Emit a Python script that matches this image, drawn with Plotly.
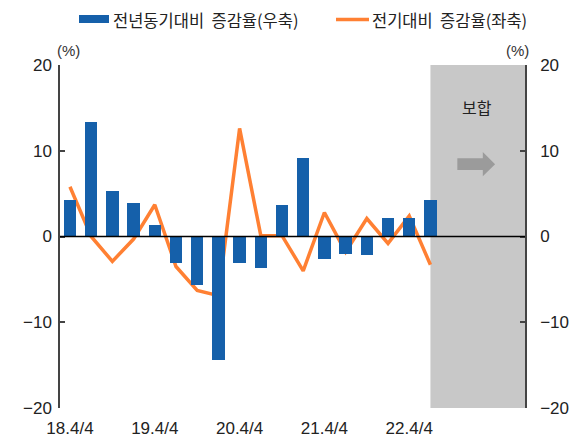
import plotly.graph_objects as go

quarters = ["18.4/4", "19.1/4", "19.2/4", "19.3/4", "19.4/4", "20.1/4", "20.2/4", "20.3/4",
            "20.4/4", "21.1/4", "21.2/4", "21.3/4", "21.4/4", "22.1/4", "22.2/4", "22.3/4",
            "22.4/4", "23.1/4"]
yoy = [4.3, 13.3, 5.3, 3.9, 1.4, -3.1, -5.7, -14.4, -3.1, -3.7, 3.7, 9.2, -2.6, -2.0, -2.1, 2.1, 2.1, 4.2]
qoq = [5.8, 0.0, -2.9, -0.3, 3.7, -3.5, -6.3, -6.9, 12.6, 0.1, 0.1, -4.0, 2.8, -1.8, 2.1, -0.8, 2.4, -3.3]
tick_labels = ["18.4/4", "19.4/4", "20.4/4", "21.4/4", "22.4/4"]
y_ticks = [-20, -10, 0, 10, 20]
outlook_label = "보합"
name_yoy = "전년동기대비  증감율(우축)"
name_qoq = "전기대비  증감율(좌축)"

BLUE = "#1560AA"
ORANGE = "#FF8033"

xs = list(range(len(quarters)))
tick_pos = [quarters.index(t) for t in tick_labels]

KFONT = "Noto Sans CJK KR, Liberation Sans, sans-serif"
NFONT = "Liberation Sans, Arial, sans-serif"

fig = go.Figure()
fig.add_trace(go.Bar(x=xs, y=yoy, name=name_yoy, yaxis="y2", width=0.59,
                     marker=dict(color=BLUE, line=dict(width=0))))
fig.add_trace(go.Scatter(x=xs, y=qoq, name=name_qoq, mode="lines", yaxis="y",
                         line=dict(color=ORANGE, width=3.5)))

fig.add_shape(type="rect", xref="x", yref="paper", x0=17, x1=21.46, y0=0, y1=1,
              fillcolor="#C8C8C8", line=dict(width=0), layer="below")
# zero line
fig.add_shape(type="line", xref="paper", yref="y", x0=0, x1=1, y0=0, y1=0,
              line=dict(color="black", width=1.5), layer="above")
# arrow
ax0, ax1, ax2, ay, sh, hh = 18.27, 19.47, 20.05, 8.44, 0.68, 1.42
fig.add_shape(type="path", xref="x", yref="y",
              path=f"M {ax0} {ay-sh} L {ax1} {ay-sh} L {ax1} {ay-hh} L {ax2} {ay} L {ax1} {ay+hh} L {ax1} {ay+sh} L {ax0} {ay+sh} Z",
              fillcolor="#9B9B9B", line=dict(width=0))

# manual legend (pixel -> paper)
def px(x):
    return (x - 60) / 465
def py(y):
    return (408 - y) / 343

fig.add_shape(type="rect", xref="paper", yref="paper", x0=px(79), x1=px(109), y0=py(23), y1=py(15),
              fillcolor=BLUE, line=dict(width=0))
fig.add_shape(type="line", xref="paper", yref="paper", x0=px(336), x1=px(369), y0=py(19.5), y1=py(19.5),
              line=dict(color=ORANGE, width=3.5))
fig.add_annotation(x=px(111), y=py(20), xref="paper", yref="paper", text=name_yoy, showarrow=False,
                   xanchor="left", yanchor="middle", font=dict(family=KFONT, size=16.5, color="#222"))
fig.add_annotation(x=px(370), y=py(20), xref="paper", yref="paper", text=name_qoq, showarrow=False,
                   xanchor="left", yanchor="middle", font=dict(family=KFONT, size=16.5, color="#222"))

fig.add_annotation(x=19.2, y=15.1, xref="x", yref="y", text=outlook_label, showarrow=False,
                   font=dict(family=KFONT, size=16, color="#222"))
fig.add_annotation(x=px(68), y=py(50), xref="paper", yref="paper", text="(%)", showarrow=False,
                   xanchor="center", yanchor="middle",
                   font=dict(family=NFONT, size=15, color="#333"))
fig.add_annotation(x=px(517), y=py(51), xref="paper", yref="paper", text="(%)", showarrow=False,
                   xanchor="center", yanchor="middle",
                   font=dict(family=NFONT, size=15, color="#333"))

axis_common = dict(range=[-20, 20], tickvals=y_ticks, showgrid=False, zeroline=False,
                   showline=True, linecolor="#444", linewidth=1.5, ticks="inside",
                   ticklen=5, tickcolor="#444", tickwidth=1.5,
                   tickfont=dict(family=NFONT, size=17, color="#222"))

fig.update_layout(
    width=575, height=438,
    margin=dict(l=60, r=50, t=65, b=30, autoexpand=False),
    plot_bgcolor="white", paper_bgcolor="white",
    showlegend=False,
    xaxis=dict(range=[-0.47, 21.46], tickvals=tick_pos, ticktext=tick_labels,
               showgrid=False, zeroline=False, showline=False, ticks="",
               ticklabelstandoff=8,
               tickfont=dict(family=NFONT, size=17, color="#222"), automargin=False),
    yaxis=dict(**axis_common, side="left", ticklabelstandoff=3, automargin=False),
    yaxis2=dict(**axis_common, side="right", overlaying="y", ticklabelstandoff=10, automargin=False),
    bargap=0,
)

fig.write_html("out.html", post_script="document.body.style.margin='0';",
               config={"displayModeBar": False})
